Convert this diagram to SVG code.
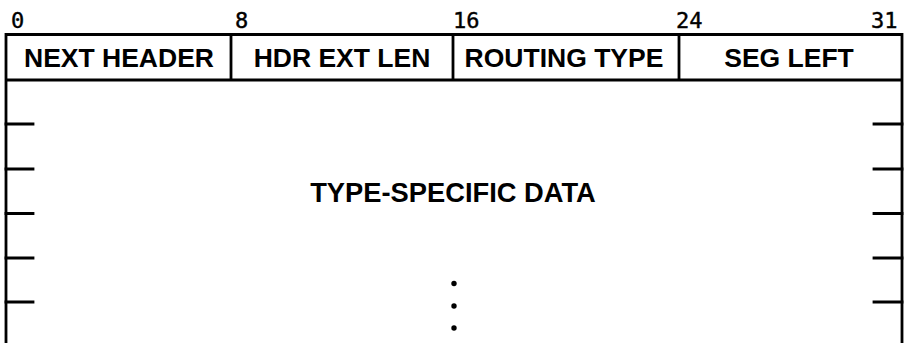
<svg xmlns="http://www.w3.org/2000/svg" width="907" height="343" viewBox="0 0 907 343">
<style>
.ln{stroke:#000;stroke-width:2.8;fill:none;stroke-linecap:square}
.bit{font-family:"DejaVu Sans Mono","Liberation Mono",monospace;font-size:22px;fill:#000;stroke:#000;stroke-width:0.4}
.lbl{font-family:"Liberation Sans",Arial,sans-serif;font-weight:bold;font-size:26.5px;fill:#000;text-anchor:middle}
</style>
<rect width="907" height="343" fill="#fff"/>
<g id="bits">
<text class="bit" x="11" y="27.5">0</text>
<text class="bit" x="235" y="27.5">8</text>
<text class="bit" x="453" y="27.5">16</text>
<text class="bit" x="676" y="27.5">24</text>
<text class="bit" x="871" y="27.5">31</text>
</g>
<g id="connectors">
<path class="ln" d="M6,34.5 H902 M6,80 H902 M6,34.5 V343 M902,34.5 V343 M231,34.5 V80 M453,34.5 V80 M679,34.5 V80"/>
<path class="ln" d="M6,124 H33 M6,169 H33 M6,213.5 H33 M6,258 H33 M6,302 H33"/>
<path class="ln" d="M874,124 H902 M874,169 H902 M874,213.5 H902 M874,258 H902 M874,302 H902"/>
</g>
<g id="next-header"><text class="lbl" x="119" y="67">NEXT HEADER</text></g>
<g id="hdr-ext-len"><text class="lbl" x="342" y="67">HDR EXT LEN</text></g>
<g id="routing-type"><text class="lbl" x="564" y="67">ROUTING TYPE</text></g>
<g id="seg-left"><text class="lbl" x="789" y="67">SEG LEFT</text></g>
<g id="type-specific-data">
<text class="lbl" x="453" y="201.5" style="font-size:27.3px">TYPE-SPECIFIC DATA</text>
<circle cx="454" cy="283.5" r="2.7"/>
<circle cx="454" cy="306" r="2.7"/>
<circle cx="454" cy="328" r="2.7"/>
</g>
</svg>
